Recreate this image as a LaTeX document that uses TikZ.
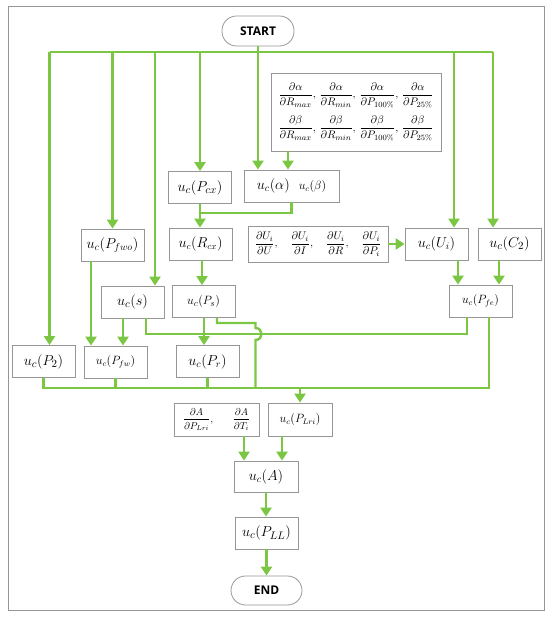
\documentclass[tikz,border=0pt]{standalone}
\usepackage{amsmath}
\usepackage{fontspec}
\setsansfont{Open Sans}
\usetikzlibrary{arrows.meta}
\definecolor{lgreen}{RGB}{123,198,66}
\definecolor{bgray}{RGB}{150,150,150}
\newcommand{\fs}[1]{\fontsize{#1}{#1}\selectfont}
\begin{document}
\begin{tikzpicture}[x=1pt,y=-1pt,
  box/.style={draw=bgray, line width=0.8pt, fill=white, inner sep=0pt, minimum width=63pt, minimum height=32pt},
  term/.style={draw=bgray, line width=0.8pt, fill=white, rounded corners=14.5pt, inner sep=0pt, minimum width=72pt, minimum height=30pt, font=\sffamily\bfseries\fs{12}},
  conn/.style={draw=lgreen, line width=2.4pt, line join=miter},
  arr/.style={conn, -{Triangle[length=9pt,width=11pt]}},
]
\useasboundingbox (0,0) rectangle (550,617);
\draw[bgray, line width=1pt] (8,7) rectangle (544,610);

% nodes
\node[term] (start) at (258,31) {START};
\node[box, minimum width=170pt, minimum height=78pt, font=\fs{11}] (dab) at (356,112)
 {$\begin{array}{@{}c@{,\ }c@{,\ }c@{,\ }c@{}}
 \dfrac{\partial\alpha}{\partial R_{max}} & \dfrac{\partial\alpha}{\partial R_{min}} & \dfrac{\partial\alpha}{\partial P_{100\%}} & \dfrac{\partial\alpha}{\partial P_{25\%}}\\[15pt]
 \dfrac{\partial\beta}{\partial R_{max}} & \dfrac{\partial\beta}{\partial R_{min}} & \dfrac{\partial\beta}{\partial P_{100\%}} & \dfrac{\partial\beta}{\partial P_{25\%}}
 \end{array}$};
\node[box, font=\fs{15.5}] (pcx) at (200,187.5) {$u_c(P_{cx})$};
\node[box, minimum width=95pt] (ab) at (291.5,186) {\fs{14}$u_c(\alpha)$\hspace{9pt}\fs{12}$u_c(\beta)$\hspace{14pt}};
\node[box, font=\fs{13.5}] (rcx) at (200.5,244) {$u_c(R_{cx})$};
\node[box, font=\fs{14.5}] (pfwo) at (112.5,245) {$u_c(P_{fwo})$};
\node[box, minimum width=140pt, minimum height=36pt, font=\fs{11}] (dui) at (318,244)
 {$\dfrac{\partial U_i}{\partial U},\quad \dfrac{\partial U_i}{\partial I},\quad \dfrac{\partial U_i}{\partial R},\quad \dfrac{\partial U_i}{\partial P_i}$};
\node[box, font=\fs{14}] (ui) at (436.5,244) {$u_c(U_i)$};
\node[box, font=\fs{15.5}] (c2) at (509.5,244) {$u_c(C_2)$};
\node[box, font=\fs{12}] (pfe) at (480.5,301) {$u_c(P_{fe})$};
\node[box, font=\fs{15}] (s) at (132.5,302) {$u_c(s)$};
\node[box, font=\fs{13}] (ps) at (203.5,301.5) {$u_c(P_s)$};
\node[box, font=\fs{15}] (p2) at (43.5,361.5) {$u_c(P_2)$};
\node[box, font=\fs{12}] (pfw) at (115.5,362) {$u_c(P_{fw})$};
\node[box, font=\fs{14}] (pr) at (207.5,361.5) {$u_c(P_r)$};
\node[box, minimum width=85pt, minimum height=33pt, font=\fs{10}] (dA) at (216.5,419.5)
 {$\dfrac{\partial A}{\partial P_{Lri}},\hspace{18pt}\dfrac{\partial A}{\partial T_i}$};
\node[box, minimum width=64pt, minimum height=33pt, font=\fs{12}] (plri) at (300,419.5) {$u_c(P_{Lri})$};
\node[box, minimum width=64pt, minimum height=31pt, font=\fs{14}] (A) at (266,476.5) {$u_c(A)$};
\node[box, font=\fs{15}] (pll) at (266.5,533) {$u_c(P_{LL})$};
\node[term, minimum width=71pt, minimum height=29pt] (end) at (266.5,590.5) {END};

% helper coordinates
\coordinate (top) at (0,52);
\coordinate (mid) at (0,213);
\coordinate (hl) at (0,334);
\coordinate (hp) at (0,323);
\coordinate (bot) at (0,388);
\coordinate (p2T) at ([xshift=6pt]p2.north);
\coordinate (sT) at ([xshift=22.5pt]s.north);
\coordinate (uiT) at ([xshift=17.5pt]ui.north);
\coordinate (c2T) at ([xshift=-16.5pt]c2.north);
\coordinate (abB) at (ab.south);
\coordinate (dabB) at ([xshift=-68pt]dab.south);
\coordinate (rcxB) at ([xshift=1.5pt]rcx.south);
\coordinate (pfwoB) at ([xshift=-21.5pt]pfwo.south);
\coordinate (sB1) at ([xshift=-9.5pt]s.south);
\coordinate (sB2) at ([xshift=13.5pt]s.south);
\coordinate (psB1) at ([xshift=0.5pt]ps.south);
\coordinate (psB2) at ([xshift=13.5pt]ps.south);
\coordinate (uiB) at ([xshift=21.5pt]ui.south);
\coordinate (c2B) at ([xshift=-10.5pt]c2.south);
\coordinate (pfeB1) at ([xshift=-13.5pt]pfe.south);
\coordinate (pfeB2) at ([xshift=8.5pt]pfe.south);
\coordinate (hop) at (255.5,0);
\coordinate (dAB) at ([xshift=27.5pt]dA.south);
\coordinate (plriB) at ([xshift=-18pt]plri.south);

% top bus
\draw[conn] (p2T |- top) -- (c2T |- top);
\draw[arr] (p2T |- top) -- (p2T);
\draw[arr] (pfwo.north |- top) -- (pfwo.north);
\draw[arr] (sT |- top) -- (sT);
\draw[arr] (pcx.north |- top) -- (pcx.north);
\draw[arr] (uiT |- top) -- (uiT);
\draw[arr] (c2T |- top) -- (c2T);
\draw[arr] (start.south) -- (start.south |- ab.north);
\draw[arr] (dabB) -- (dabB |- ab.north);

% middle
\draw[conn] (abB) -- (abB |- mid) -- (pcx.south |- mid);
\draw[arr] (pcx.south) -- (pcx.south |- rcx.north);
\draw[arr] (rcxB) -- (rcxB |- ps.north);
\draw[arr] (dui.east) -- (ui.west);
\draw[arr] (uiB) -- (uiB |- pfe.north);
\draw[arr] (c2B) -- (c2B |- pfe.north);
\draw[arr] (pfwoB) -- (pfwoB |- pfw.north);
\draw[arr] (sB1) -- (sB1 |- pfw.north);
\draw[arr] (psB1) -- (psB1 |- pr.north);

% s -- P_fe line
\draw[conn] (sB2) -- (sB2 |- hl) -- (pfeB1 |- hl) -- (pfeB1);
% P_s line with hop
\draw[conn] (psB2) -- (psB2 |- hp) -- (hop |- hp) -- ++(0,5)
  .. controls ++(8,0) and ++(8,0) .. ++(0,12) -- (hop |- bot);

% bottom bus
\draw[conn] (p2.south) -- (p2.south |- bot) -- (pfeB2 |- bot) -- (pfeB2);
\draw[conn] (pfw.south) -- (pfw.south |- bot);
\draw[conn] (pr.south) -- (pr.south |- bot);
\draw[arr] (plri.north |- bot) -- (plri.north);

% bottom
\draw[arr] (dAB) -- (dAB |- A.north);
\draw[arr] (plriB) -- (plriB |- A.north);
\draw[arr] (A.south) -- (A.south |- pll.north);
\draw[arr] (pll.south) -- (end.north);
\end{tikzpicture}
\end{document}
